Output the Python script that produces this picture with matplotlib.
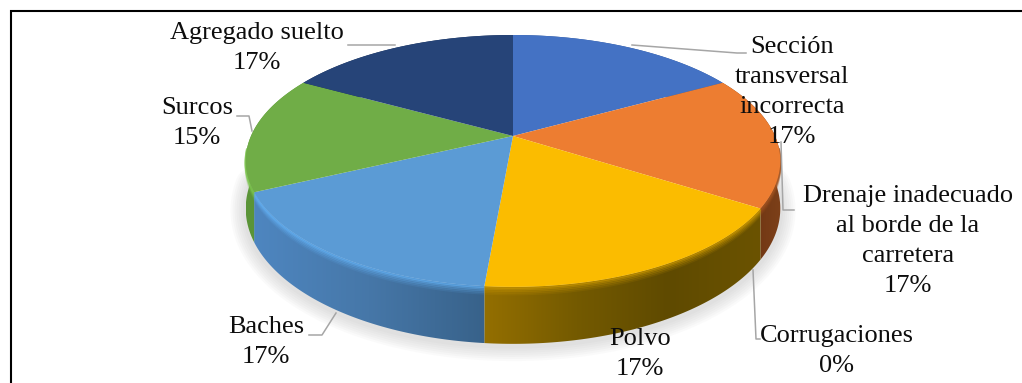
# Pie chart with a tilted top face and a thick side wall, as in the Excel 3D pie
import numpy as np
import matplotlib
matplotlib.use('Agg')
import matplotlib.pyplot as plt
from matplotlib.colors import LinearSegmentedColormap
from matplotlib.patches import Polygon

categories = ['Sección\ntransversal\nincorrecta', 'Drenaje inadecuado\nal borde de la\ncarretera',
              'Corrugaciones', 'Polvo', 'Baches', 'Surcos', 'Agregado suelto']
values = [17, 17, 0, 17.4, 16.6, 15, 17]
top_colors = ['#4472c4', '#ed7d31', '#a5a5a5', '#fbbc00', '#5b9bd5', '#70ad47', '#264478']
side_colors = [['#2f5597', '#2f5597'], ['#7f4119', '#6f3613', '#7d4019'], ['#666666', '#666666'],
               ['#946f00', '#745a00', '#5f4a00', '#6b5300'], ['#4e86c0', '#4677a8', '#38628a'],
               ['#5a9437', '#5f9a3c'], ['#1a3055', '#1a3055']]
rim_colors = ['#4472c4', '#a0521f', '#a5a5a5', '#c99600', '#62aef0', '#7cc44e', '#264478']

label_x = [792, 908, 837, 640, 266, 197, 257]
label_y = [92, 241, 351, 354, 342, 123, 48]

leaders = [([632, 737, 746], [45, 53, 53]),
           ([781, 783, 794], [142, 210, 210]),
           ([753, 756, 760], [270, 339, 339]),
           None,
           ([309, 322, 336], [335, 335, 313]),
           ([237, 249, 252], [116, 116, 131]),
           ([348, 395], [45, 45])]

# pie geometry in pixels
CX = 513
CY = 136
RX = 262
RY = 121
TILT = 0.198
DEPTH = 45.7


def project(angle, drop=0.0):
    # angle in degrees, clockwise from the top of the pie
    a = np.radians(angle)
    u = np.sin(a)
    v = np.cos(a)
    den = 1 + TILT * v
    return CX + RX * u / den, CY - RY * v / den + drop * DEPTH / den


def gradient_fill(ax, poly_x, poly_y, stops, zorder):
    patch = Polygon(np.column_stack([poly_x, poly_y]), closed=True, fc='none', ec='none', transform=ax.transData)
    ax.add_patch(patch)
    cmap = LinearSegmentedColormap.from_list('side', stops)
    im = ax.imshow(np.linspace(0, 1, 256).reshape(1, -1), cmap=cmap, aspect='auto', zorder=zorder,
                   extent=[min(poly_x), max(poly_x), max(poly_y), min(poly_y)])
    im.set_clip_path(patch)


def main():
    fig = plt.figure(figsize=(10.22, 3.83), dpi=100)
    ax = fig.add_axes([0, 0, 1, 1])

    edges = np.concatenate([[0], np.cumsum(values)]) / sum(values) * 360

    # soft shadow under the pie
    ring = np.linspace(90, 270, 200)
    sx, sy = project(ring, 1.0)
    for width in range(22, 1, -3):
        ax.plot(sx, sy + 2, color='#808080', lw=width, alpha=0.035, zorder=1, solid_capstyle='round')

    # side wall
    for i in range(len(values)):
        if values[i] == 0:
            continue
        arc = np.linspace(edges[i], edges[i + 1], 80)
        tx, ty = project(arc)
        bx, by = project(arc, 1.0)
        px = np.concatenate([tx, bx[::-1]])
        py = np.concatenate([ty, by[::-1]])
        gradient_fill(ax, px, py, side_colors[i], 2)

    # bevel on the edge of the top face
    for i in range(len(values)):
        if values[i] == 0:
            continue
        arc = np.linspace(edges[i], edges[i + 1], 80)
        arc = arc[(arc > 95) & (arc < 265)]
        if len(arc) == 0:
            continue
        for d, al in zip([0.13, 0.10, 0.07, 0.04, 0.015], [0.12, 0.22, 0.35, 0.5, 0.7]):
            bx, by = project(arc, d)
            ax.plot(bx, by, color=rim_colors[i], lw=1.6, alpha=al, zorder=3, solid_capstyle='butt')

    # top face
    for i in range(len(values)):
        if values[i] == 0:
            continue
        arc = np.linspace(edges[i], edges[i + 1], 80)
        tx, ty = project(arc)
        px = np.concatenate([[CX], tx])
        py = np.concatenate([[CY], ty])
        ax.fill(px, py, color=top_colors[i], lw=0, zorder=4)

    # labels and leader lines
    for i in range(len(values)):
        if leaders[i] is not None:
            ax.plot(leaders[i][0], leaders[i][1], color='#a6a6a6', lw=1.1, zorder=5)
        ax.text(label_x[i], label_y[i], categories[i] + '\n' + f'{values[i]:.0f}%', ha='center', va='center',
                family='Liberation Serif', fontsize=19, linespacing=1.47, color='#0d0d0d', zorder=6)

    # frame of the chart: only the top and left sides show in the picture
    ax.plot([10.5, 10.5, 1022], [383, 11, 11], color='black', lw=1.5, zorder=7, solid_joinstyle='miter')

    ax.set_xlim(0, 1022)
    ax.set_ylim(383, 0)
    ax.axis('off')
    fig.savefig('out.png', dpi=100)


if __name__ == "__main__":
    main()
